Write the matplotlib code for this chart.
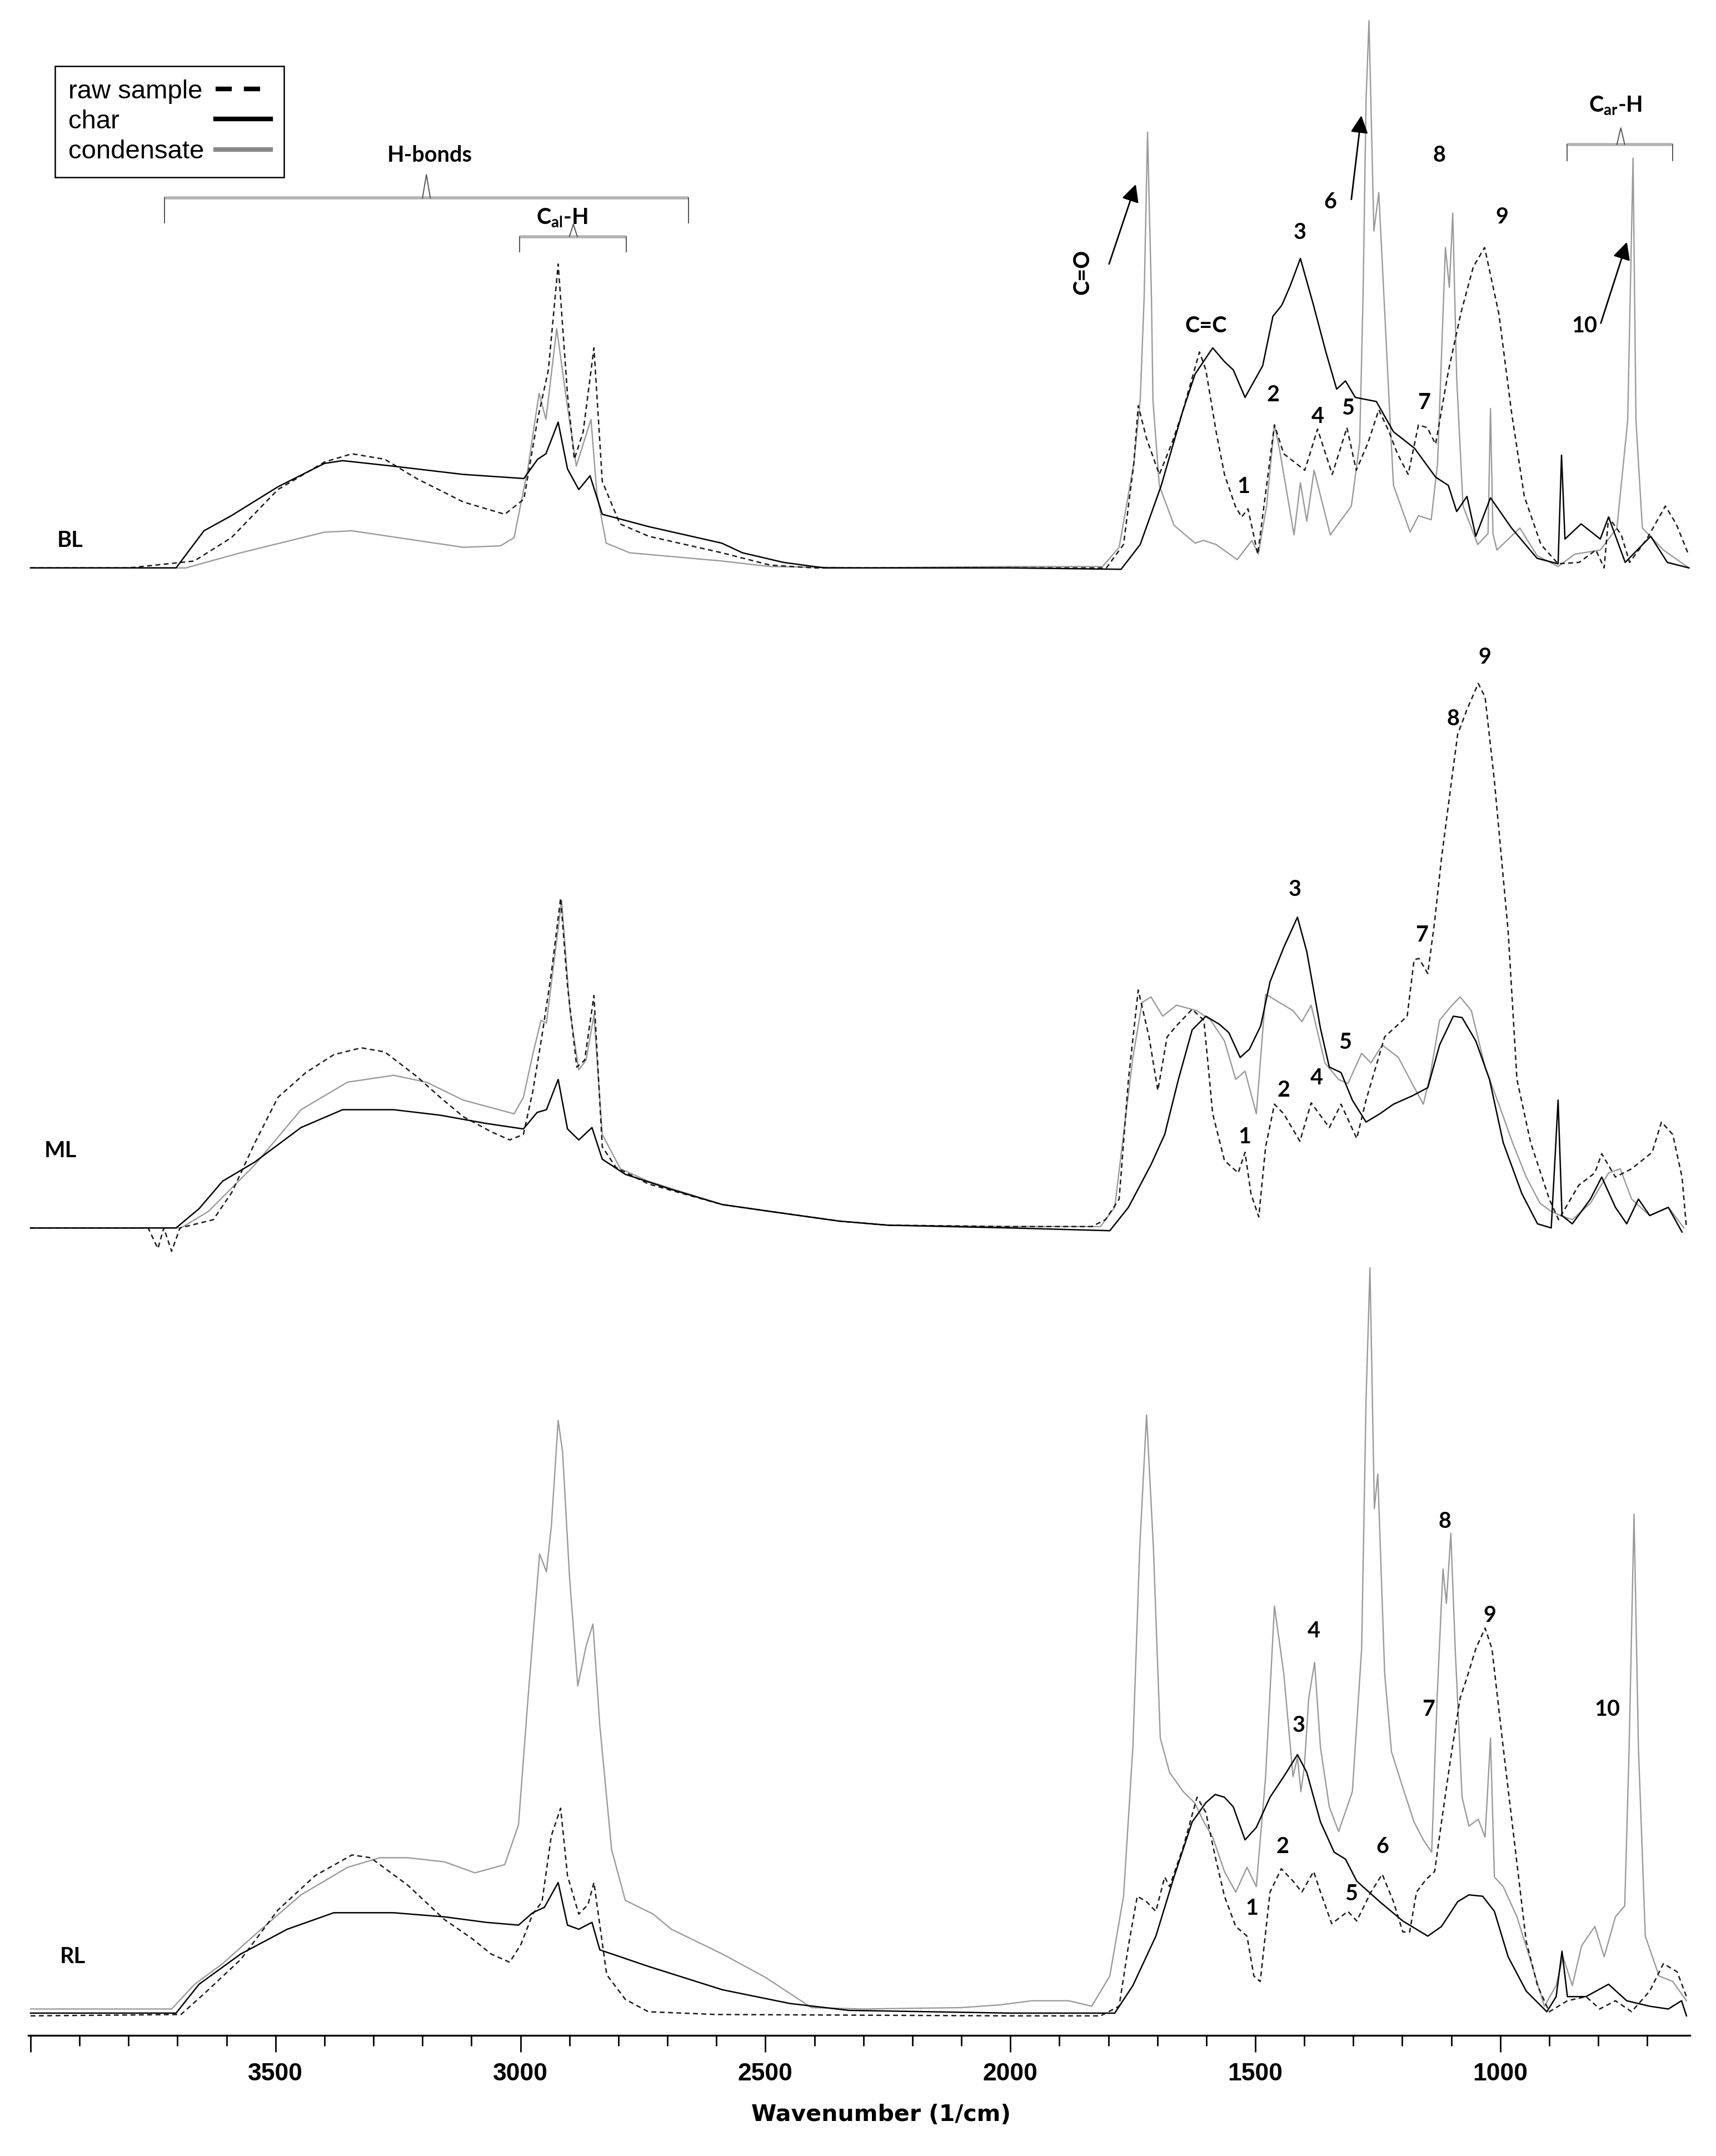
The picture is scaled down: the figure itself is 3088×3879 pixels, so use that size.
"""FTIR spectra of BL / ML / RL: raw sample, char and condensate."""

from __future__ import annotations

import matplotlib

matplotlib.use("Agg")
import matplotlib.pyplot as plt
from matplotlib.lines import Line2D
from matplotlib.ticker import MultipleLocator


# ---- spectra: (wavenumber 1/cm, absorbance a.u.) ----
BL_RAW = [
    (4000, 0.0), (3800, 0.0), (3666, 0.05), (3590, 0.22), (3495, 0.57), (3400, 0.77), (3344, 0.83),
    (3277, 0.79), (3212, 0.65), (3117, 0.48), (3032, 0.39), (2993, 0.50), (2965, 1.08), (2943, 1.44),
    (2923, 2.21), (2904, 1.26), (2890, 0.79), (2872, 0.99), (2850, 1.60), (2833, 0.63), (2797, 0.32),
    (2738, 0.23), (2589, 0.11), (2490, 0.02), (2400, 0.0), (1804, 0.0), (1769, 0.17), (1748, 0.76),
    (1739, 1.18), (1722, 0.94), (1696, 0.68), (1670, 0.91), (1649, 1.13), (1614, 1.57), (1601, 1.44),
    (1580, 0.99), (1563, 0.68), (1541, 0.45), (1528, 0.37), (1515, 0.43), (1495, 0.10), (1477, 0.60),
    (1461, 1.04), (1442, 0.83), (1399, 0.71), (1373, 1.01), (1343, 0.68), (1313, 1.02), (1294, 0.71),
    (1270, 0.91), (1248, 1.15), (1227, 0.99), (1210, 0.83), (1188, 0.68), (1167, 1.04), (1149, 1.02),
    (1132, 0.90), (1106, 1.43), (1080, 1.86), (1055, 2.19), (1032, 2.33), (1003, 1.85), (977, 1.13),
    (951, 0.52), (917, 0.17), (882, 0.03), (839, 0.04), (805, 0.13), (788, 0.0), (779, 0.37),
    (753, 0.24), (736, 0.04), (701, 0.21), (663, 0.45), (641, 0.32), (615, 0.09),
]
BL_CHAR = [
    (4000, 0.0), (3800, 0.0), (3703, 0.0), (3646, 0.27), (3590, 0.38), (3495, 0.59), (3400, 0.76),
    (3363, 0.78), (3260, 0.74), (3117, 0.68), (2993, 0.65), (2965, 0.79), (2948, 0.83), (2923, 1.06),
    (2904, 0.72), (2881, 0.57), (2858, 0.67), (2833, 0.39), (2738, 0.30), (2589, 0.18), (2547, 0.11),
    (2463, 0.04), (2380, 0.0), (2000, 0.0), (1774, -0.01), (1735, 0.17), (1692, 0.60), (1649, 1.13),
    (1623, 1.41), (1587, 1.60), (1563, 1.50), (1545, 1.44), (1521, 1.24), (1485, 1.47), (1464, 1.83),
    (1446, 1.91), (1429, 2.05), (1408, 2.25), (1382, 1.92), (1356, 1.57), (1334, 1.30), (1316, 1.36),
    (1296, 1.24), (1253, 1.21), (1218, 0.99), (1175, 0.87), (1132, 0.66), (1106, 0.60), (1089, 0.41),
    (1068, 0.52), (1050, 0.23), (1020, 0.51), (977, 0.29), (925, 0.07), (882, 0.03), (875, 0.82),
    (868, 0.21), (835, 0.32), (796, 0.21), (779, 0.37), (745, 0.04), (693, 0.23), (659, 0.04), (615, 0.0),
]
BL_COND = [
    (4000, 0.0), (3800, 0.0), (3683, 0.0), (3571, 0.11), (3400, 0.26), (3344, 0.27), (3212, 0.20),
    (3117, 0.15), (3041, 0.16), (3013, 0.22), (2985, 0.72), (2962, 1.27), (2948, 1.08), (2926, 1.74),
    (2904, 1.17), (2886, 0.74), (2872, 0.90), (2856, 1.08), (2844, 0.54), (2825, 0.18), (2777, 0.11),
    (2589, 0.05), (2490, 0.01), (2300, 0.0), (2000, 0.01), (1812, 0.01), (1778, 0.15), (1748, 0.76),
    (1735, 1.22), (1727, 1.96), (1720, 3.17), (1712, 1.96), (1709, 1.22), (1696, 0.60), (1666, 0.31),
    (1623, 0.18), (1606, 0.20), (1580, 0.17), (1537, 0.06), (1507, 0.20), (1494, 0.10), (1477, 0.45),
    (1461, 1.04), (1451, 0.87), (1421, 0.24), (1408, 0.62), (1395, 0.34), (1380, 0.71), (1347, 0.24),
    (1304, 0.45), (1287, 0.91), (1280, 2.0), (1274, 3.4), (1268, 3.98), (1258, 2.45), (1248, 2.73),
    (1227, 1.22), (1218, 0.60), (1184, 0.26), (1167, 0.38), (1141, 0.35), (1128, 0.76), (1112, 2.33),
    (1104, 2.04), (1097, 2.58), (1089, 1.38), (1076, 0.45), (1046, 0.17), (1025, 0.25), (1020, 1.16),
    (1015, 0.25), (1007, 0.13), (960, 0.29), (925, 0.09), (882, 0.01), (848, 0.10), (796, 0.13),
    (762, 0.29), (740, 1.07), (729, 2.98), (723, 1.07), (710, 0.29), (667, 0.13), (615, 0.0),
]

ML_RAW = [
    (4000, 0.0), (3760, 0.0), (3740, -0.15), (3728, 0.0), (3712, -0.17), (3695, 0.0), (3627, 0.06),
    (3589, 0.26), (3542, 0.62), (3495, 0.95), (3438, 1.13), (3381, 1.26), (3325, 1.31), (3277, 1.28),
    (3211, 1.10), (3164, 0.95), (3117, 0.81), (3060, 0.70), (3022, 0.64), (2994, 0.68), (2975, 0.99),
    (2956, 1.40), (2937, 1.85), (2918, 2.40), (2904, 1.76), (2885, 1.17), (2869, 1.22), (2850, 1.69),
    (2833, 0.59), (2805, 0.44), (2739, 0.32), (2588, 0.17), (2490, 0.12), (2350, 0.05), (2250, 0.02),
    (2000, 0.01), (1834, 0.01), (1806, 0.06), (1778, 0.21), (1759, 1.08), (1739, 1.73), (1717, 1.39),
    (1699, 1.00), (1680, 1.39), (1661, 1.47), (1629, 1.59), (1605, 1.51), (1587, 0.83), (1563, 0.49),
    (1535, 0.40), (1521, 0.55), (1509, 0.25), (1493, 0.08), (1479, 0.59), (1461, 0.90), (1442, 0.83),
    (1409, 0.63), (1386, 0.91), (1349, 0.73), (1325, 0.90), (1293, 0.65), (1274, 0.93), (1236, 1.39),
    (1199, 1.51), (1190, 1.54), (1176, 1.95), (1166, 1.96), (1148, 1.85), (1134, 2.23), (1120, 2.69),
    (1101, 3.21), (1087, 3.59), (1068, 3.77), (1045, 3.96), (1031, 3.86), (1012, 3.25), (984, 2.16),
    (966, 1.08), (938, 0.62), (900, 0.21), (881, 0.06), (840, 0.31), (807, 0.40), (793, 0.54),
    (765, 0.37), (732, 0.43), (690, 0.55), (671, 0.77), (648, 0.68), (629, 0.37), (620, 0.0),
]
ML_CHAR = [
    (4000, 0.0), (3703, 0.0), (3656, 0.14), (3608, 0.34), (3542, 0.48), (3448, 0.73), (3363, 0.86),
    (3259, 0.86), (3164, 0.82), (3070, 0.76), (2994, 0.72), (2966, 0.84), (2947, 0.86), (2923, 1.08),
    (2904, 0.72), (2881, 0.64), (2854, 0.73), (2833, 0.50), (2786, 0.39), (2692, 0.28), (2588, 0.17),
    (2490, 0.12), (2350, 0.05), (2250, 0.02), (2000, 0.0), (1797, -0.02), (1759, 0.15), (1713, 0.46),
    (1685, 0.68), (1657, 1.08), (1629, 1.44), (1601, 1.54), (1573, 1.48), (1554, 1.42), (1531, 1.24),
    (1512, 1.30), (1489, 1.47), (1470, 1.79), (1442, 2.04), (1414, 2.26), (1395, 2.01), (1367, 1.45),
    (1349, 1.17), (1325, 1.13), (1302, 0.93), (1274, 0.77), (1246, 0.83), (1218, 0.90), (1180, 0.96),
    (1148, 1.02), (1124, 1.33), (1096, 1.54), (1078, 1.53), (1050, 1.36), (1022, 1.08), (994, 0.62),
    (956, 0.25), (924, 0.03), (896, 0.0), (889, 0.46), (882, 0.93), (874, 0.09), (853, 0.03),
    (816, 0.21), (793, 0.37), (765, 0.15), (742, 0.03), (718, 0.21), (695, 0.09), (657, 0.15), (629, -0.03),
]
ML_COND = [
    (4000, 0.0), (3693, 0.0), (3637, 0.12), (3542, 0.46), (3448, 0.86), (3353, 1.06), (3259, 1.11),
    (3192, 1.06), (3117, 0.93), (3013, 0.83), (2994, 0.95), (2975, 1.26), (2958, 1.51), (2947, 1.49),
    (2916, 2.38), (2899, 1.58), (2881, 1.15), (2866, 1.22), (2850, 1.55), (2833, 0.68), (2796, 0.43),
    (2739, 0.34), (2588, 0.17), (2490, 0.12), (2350, 0.05), (2250, 0.02), (2000, 0.01), (1816, 0.01),
    (1787, 0.15), (1750, 1.24), (1731, 1.64), (1713, 1.68), (1689, 1.54), (1661, 1.62), (1619, 1.58),
    (1591, 1.51), (1563, 1.36), (1540, 1.08), (1521, 1.14), (1498, 0.83), (1479, 1.70), (1465, 1.67),
    (1423, 1.58), (1405, 1.50), (1386, 1.62), (1358, 1.20), (1330, 1.08), (1311, 1.05), (1283, 1.27),
    (1264, 1.20), (1241, 1.33), (1208, 1.24), (1180, 1.05), (1157, 0.90), (1143, 1.11), (1124, 1.51),
    (1101, 1.61), (1082, 1.68), (1059, 1.58), (1031, 1.17), (1003, 0.90), (975, 0.62), (947, 0.37),
    (919, 0.18), (896, 0.12), (877, 0.09), (853, 0.06), (816, 0.18), (779, 0.40), (755, 0.43),
    (732, 0.21), (695, 0.09), (657, 0.15), (625, 0.0),
]

RL_RAW = [
    (4000, -0.03), (3693, -0.02), (3646, 0.13), (3571, 0.38), (3495, 0.74), (3419, 0.99), (3344, 1.14),
    (3306, 1.12), (3230, 0.92), (3155, 0.67), (3098, 0.53), (3060, 0.42), (3022, 0.36), (2999, 0.49),
    (2975, 0.71), (2956, 0.80), (2937, 1.28), (2918, 1.48), (2904, 0.99), (2881, 0.71), (2862, 0.78),
    (2850, 0.94), (2838, 0.63), (2824, 0.27), (2786, 0.09), (2739, 0.0), (2600, -0.02), (2000, -0.03),
    (1816, -0.03), (1778, 0.04), (1759, 0.48), (1741, 0.84), (1722, 0.80), (1703, 0.73), (1685, 0.98),
    (1675, 0.91), (1647, 1.20), (1619, 1.56), (1601, 1.45), (1582, 1.13), (1563, 0.84), (1540, 0.62),
    (1517, 0.55), (1503, 0.26), (1490, 0.22), (1470, 0.87), (1447, 1.04), (1423, 0.95), (1405, 0.87),
    (1381, 1.02), (1367, 0.87), (1344, 0.64), (1311, 0.73), (1293, 0.66), (1264, 0.87), (1241, 1.00),
    (1218, 0.80), (1199, 0.58), (1185, 0.58), (1171, 0.87), (1152, 0.96), (1134, 1.02), (1120, 1.38),
    (1101, 1.85), (1082, 2.28), (1068, 2.43), (1050, 2.64), (1031, 2.79), (1017, 2.64), (994, 1.92),
    (970, 1.20), (947, 0.51), (924, 0.19), (900, 0.0), (863, 0.08), (825, 0.11), (797, 0.02),
    (765, 0.08), (732, 0.0), (695, 0.15), (667, 0.35), (639, 0.29), (620, 0.11),
]
RL_CHAR = [
    (4000, -0.01), (3703, -0.01), (3656, 0.20), (3571, 0.42), (3476, 0.60), (3381, 0.72), (3259, 0.72),
    (3155, 0.69), (3070, 0.65), (3004, 0.63), (2975, 0.72), (2951, 0.76), (2923, 0.94), (2904, 0.63),
    (2881, 0.60), (2854, 0.65), (2838, 0.45), (2739, 0.33), (2588, 0.16), (2450, 0.06), (2330, 0.01),
    (2000, -0.01), (1787, -0.01), (1750, 0.19), (1703, 0.55), (1666, 0.98), (1629, 1.38), (1601, 1.52),
    (1582, 1.58), (1563, 1.56), (1545, 1.49), (1521, 1.25), (1498, 1.34), (1470, 1.56), (1442, 1.71),
    (1414, 1.87), (1395, 1.74), (1367, 1.38), (1339, 1.16), (1316, 1.11), (1293, 0.95), (1246, 0.80),
    (1199, 0.66), (1148, 0.55), (1120, 0.62), (1087, 0.80), (1064, 0.85), (1036, 0.84), (1012, 0.73),
    (984, 0.40), (947, 0.15), (905, 0.0), (886, 0.11), (874, 0.44), (863, 0.11), (825, 0.11),
    (779, 0.20), (742, 0.08), (695, 0.04), (657, 0.02), (630, 0.08), (620, -0.03),
]
RL_COND = [
    (4000, 0.02), (3712, 0.02), (3665, 0.20), (3608, 0.35), (3542, 0.56), (3448, 0.85), (3353, 1.05),
    (3287, 1.12), (3230, 1.12), (3155, 1.09), (3093, 1.01), (3032, 1.07), (3004, 1.36), (2985, 2.26),
    (2961, 3.33), (2947, 3.20), (2937, 3.53), (2923, 4.30), (2914, 4.07), (2900, 3.17), (2883, 2.37),
    (2866, 2.66), (2852, 2.82), (2838, 2.08), (2814, 1.18), (2786, 0.81), (2729, 0.71), (2692, 0.60),
    (2588, 0.42), (2500, 0.25), (2406, 0.03), (2300, 0.02), (2100, 0.03), (2021, 0.05), (1956, 0.08),
    (1881, 0.08), (1834, 0.04), (1797, 0.26), (1769, 0.84), (1750, 1.92), (1736, 3.37), (1722, 4.34),
    (1708, 3.37), (1694, 1.99), (1675, 1.74), (1647, 1.60), (1624, 1.52), (1605, 1.38), (1587, 1.27),
    (1563, 1.02), (1540, 0.87), (1517, 1.05), (1498, 0.91), (1479, 1.71), (1461, 2.95), (1442, 2.46),
    (1423, 1.71), (1414, 1.85), (1407, 1.60), (1400, 1.78), (1391, 2.28), (1379, 2.54), (1367, 1.92),
    (1349, 1.49), (1330, 1.31), (1302, 1.60), (1283, 2.64), (1274, 4.45), (1266, 5.41), (1257, 3.66),
    (1250, 3.91), (1236, 2.46), (1222, 1.89), (1199, 1.63), (1176, 1.38), (1157, 1.25), (1140, 1.16),
    (1129, 2.28), (1117, 3.22), (1110, 2.97), (1101, 3.48), (1092, 2.64), (1078, 1.56), (1064, 1.35),
    (1045, 1.40), (1031, 1.27), (1020, 1.99), (1012, 0.98), (994, 0.91), (966, 0.69), (938, 0.37),
    (910, 0.04), (886, 0.19), (872, 0.40), (853, 0.19), (834, 0.48), (807, 0.62), (788, 0.40),
    (765, 0.69), (746, 0.77), (737, 1.92), (727, 3.62), (718, 1.92), (704, 0.55), (676, 0.26),
    (648, 0.22), (620, 0.08),
]

SERIES = ["raw sample", "char", "condensate"]
PANELS = {
    "BL": [BL_RAW, BL_CHAR, BL_COND],
    "ML": [ML_RAW, ML_CHAR, ML_COND],
    "RL": [RL_RAW, RL_CHAR, RL_COND],
}
X_TICKS = [4000, 3500, 3000, 2500, 2000, 1500, 1000]
X_TICK_LABELS = ["", "3500", "3000", "2500", "2000", "1500", "1000"]

# ---- layout (vertical stacking offsets and annotation positions) ----
OFFSETS = {"BL": 10.50, "ML": 5.70, "RL": 0.0}
STYLES = {
    "raw sample": dict(color="#1a1a1a", lw=1.8, dashes=(3.5, 2.5), zorder=3),
    "char": dict(color="black", lw=1.8, zorder=4),
    "condensate": dict(color="#9a9a9a", lw=1.7, zorder=2),
}
NOTES = [
    ("C=C", 1601, 12.26), ("3", 1409, 12.94), ("6", 1347, 13.16), ("8", 1125, 13.50),
    ("9", 997, 13.05), ("10", 828, 12.26), ("1", 1524, 11.09), ("2", 1464, 11.76),
    ("4", 1373, 11.60), ("5", 1311, 11.66), ("7", 1156, 11.70), ("BL", 3919, 10.70),
    ("H-bonds", 3185, 13.50), ("C$_{al}$-H", 2915, 13.045), ("C$_{ar}$-H", 765, 13.86),
    ("9", 1032, 9.85), ("8", 1096, 9.40), ("3", 1419, 8.16), ("7", 1160, 7.83),
    ("5", 1316, 7.05), ("4", 1375, 6.79), ("2", 1442, 6.70), ("1", 1522, 6.36), ("ML", 3939, 6.26),
    ("8", 1113, 3.565), ("9", 1021, 2.88), ("4", 1380, 2.77), ("3", 1411, 2.08), ("7", 1146, 2.20),
    ("10", 781, 2.20), ("2", 1444, 1.20), ("6", 1240, 1.20), ("1", 1507, 0.75), ("5", 1304, 0.855),
    ("RL", 3914, 0.40),
]
# (left, right, notch, y, end y, notch top)
BRACKETS = [
    (3727, 2657, 3192, 13.19, 13.01, 13.36),
    (3002, 2784, 2892, 12.91, 12.80, 13.00),
    (864, 648, 754, 13.58, 13.46, 13.70),
]
# (tail, head)
ARROWS = [
    ((1798.6, 12.71), (1744, 13.29)),
    ((1304, 13.18), (1283.6, 13.79)),
    ((794.8, 12.28), (741.5, 12.87)),
]

NOTE_FONT = dict(family="Lato", weight="bold", size=28.5)


def draw_bracket(ax, x0, x1, xm, y, y_end, y_top):
    ax.plot([x0, x1], [y, y], color="#b3b3b3", lw=4.0, solid_capstyle="butt", zorder=5)
    for xe in (x0, x1):
        ax.plot([xe, xe], [y, y_end], color="#555555", lw=1.4, zorder=5)
    ax.plot([xm + 8, xm, xm - 8], [y, y_top, y], color="#555555", lw=1.4, zorder=5)


def align_legend_text(fig, leg):
    """Left-align the labels while keeping the line samples in one column."""
    fig.canvas.draw()
    renderer = fig.canvas.get_renderer()
    widths = [t.get_window_extent(renderer).width for t in leg.get_texts()]
    wmax = max(widths)
    for column in leg._legend_handle_box.get_children():
        for item, w in zip(column.get_children(), widths):
            item.sep = item.sep + (wmax - w) * 72.0 / fig.dpi


def main():
    plt.rcParams["mathtext.fontset"] = "custom"
    plt.rcParams["mathtext.rm"] = "Lato:bold"
    plt.rcParams["mathtext.it"] = "Lato:bold"
    plt.rcParams["mathtext.default"] = "rm"

    fig = plt.figure(figsize=(30.88, 38.79), dpi=100)
    ax = fig.add_axes([51 / 3088, 0.05594, 2990 / 3088, 0.94406])

    for name, curves in PANELS.items():
        off = OFFSETS[name]
        for series, pts in zip(SERIES, curves):
            wn = [p[0] for p in pts]
            a = [p[1] + off for p in pts]
            ax.plot(wn, a, **STYLES[series])

    for text, x, y in NOTES:
        ax.text(x, y, text, ha="center", va="center", **NOTE_FONT)
    ax.text(1853, 12.65, "C=O", rotation=90, ha="center", va="center", **NOTE_FONT)

    for br in BRACKETS:
        draw_bracket(ax, *br)
    for tail, head in ARROWS:
        ax.annotate("", xy=head, xytext=tail,
                    arrowprops=dict(arrowstyle="-|>", color="black", lw=2.0,
                                    mutation_scale=48, shrinkA=0, shrinkB=0))

    ax.set_xlim(4004.5, 613)
    ax.set_ylim(-0.172, 14.63)
    for side in ("left", "right", "top"):
        ax.spines[side].set_visible(False)
    ax.spines["bottom"].set_linewidth(2.4)
    ax.set_yticks([])
    ax.set_xticks(X_TICKS)
    ax.set_xticklabels(X_TICK_LABELS, family="Liberation Sans", weight="bold", size=32)
    ax.xaxis.set_minor_locator(MultipleLocator(100))
    ax.tick_params(axis="x", which="major", direction="out", length=21.5, width=2.0, pad=14)
    ax.tick_params(axis="x", which="minor", direction="out", length=13.5, width=2.0)
    ax.patch.set_visible(False)

    fig.text(1585 / 3088, 1 - 3805 / 3879, "Wavenumber (1/cm)", ha="center", va="center",
             family="DejaVu Sans", weight="bold", size=29.5)

    handles = [
        Line2D([], [], color="black", lw=6, dashes=(3.5, 2.6)),
        Line2D([], [], color="black", lw=6),
        Line2D([], [], color="#888888", lw=6),
    ]
    leg = fig.legend(handles, SERIES, loc="upper left", bbox_to_anchor=(99 / 3088, 1 - 119 / 3879),
                     bbox_transform=fig.transFigure, borderaxespad=0, markerfirst=False,
                     prop=dict(family="Liberation Sans", size=34), handlelength=2.1,
                     handletextpad=0.45, labelspacing=0.22, borderpad=0.5, fancybox=False,
                     framealpha=1, edgecolor="black")
    leg.get_frame().set_linewidth(1.8)
    align_legend_text(fig, leg)

    fig.savefig("out.png", dpi=100)
    plt.close(fig)


if __name__ == "__main__":
    main()
